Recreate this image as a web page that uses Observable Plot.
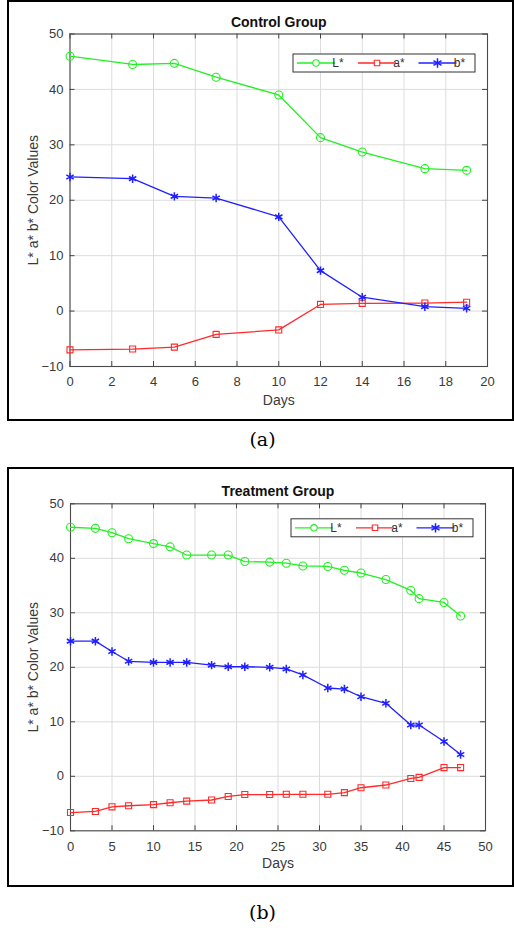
<!DOCTYPE html>
<html><head><meta charset="utf-8">
<script src="https://cdn.jsdelivr.net/npm/d3@7"></script>
<script src="https://cdn.jsdelivr.net/npm/@observablehq/plot@0.6"></script>
<style>
html,body{margin:0;padding:0;background:#fff;}
body{position:relative;width:514px;height:928px;overflow:hidden;}
.box{position:absolute;left:7px;width:503px;border:2px solid #000;background:#fff;}
.box svg{display:block;}
.cap{position:absolute;left:0;width:525px;text-align:center;font-family:"DejaVu Serif",serif;font-size:19px;line-height:1;color:#000;}
</style></head><body>
<div id="a" class="box" style="top:0;height:417px"></div>
<div class="cap" style="top:430px">(a)</div>
<div id="b" class="box" style="top:467px;height:416px"></div>
<div class="cap" style="top:903px">(b)</div>
<script>
// ---- Data ----
const seriesNames = ["L*", "a*", "b*"];
const seriesColors = ["#22f022", "#ff2a2a", "#2020ff"];
const seriesSymbols = ["circle", "square", "asterisk"];
const yTicks = [-10, 0, 10, 20, 30, 40, 50];

const controlTitle = "Control Group";
const controlDays = [0, 3, 5, 7, 10, 12, 14, 17, 19];
const controlL = [46.0, 44.5, 44.7, 42.2, 39.0, 31.3, 28.7, 25.7, 25.4];
const controlA = [-7.0, -6.85, -6.5, -4.2, -3.4, 1.2, 1.4, 1.45, 1.6];
const controlB = [24.2, 23.9, 20.7, 20.4, 17.0, 7.3, 2.5, 0.8, 0.5];
const controlXTicks = [0, 2, 4, 6, 8, 10, 12, 14, 16, 18, 20];

const treatTitle = "Treatment Group";
const treatDays = [0, 3, 5, 7, 10, 12, 14, 17, 19, 21, 24, 26, 28, 31, 33, 35, 38, 41, 42, 45, 47];
const treatL = [45.7, 45.5, 44.7, 43.6, 42.7, 42.1, 40.6, 40.6, 40.6, 39.4, 39.3, 39.1, 38.6, 38.5, 37.8, 37.3, 36.1, 34.1, 32.6, 31.9, 29.4];
const treatA = [-6.65, -6.45, -5.6, -5.4, -5.2, -4.85, -4.55, -4.35, -3.7, -3.35, -3.35, -3.3, -3.3, -3.3, -3.0, -2.1, -1.6, -0.4, -0.2, 1.6, 1.6];
const treatB = [24.8, 24.8, 22.9, 21.1, 20.9, 20.9, 20.9, 20.4, 20.1, 20.1, 20.0, 19.7, 18.6, 16.2, 16.0, 14.6, 13.4, 9.4, 9.4, 6.4, 4.0];
const treatXTicks = [0, 5, 10, 15, 20, 25, 30, 35, 40, 45, 50];

const xLabel = "Days";
const yLabel = "L* a* b* Color Values";

function drawPanel(el, cfg) {
  const {title, days, L, A, B, xTicks, width, height, mL, mR, mT, mB, legendTop, titleDy, xLabelDy} = cfg;
  const pw = width - mL - mR, ph = height - mT - mB;
  const rows = [];
  [L, A, B].forEach((vals, si) => vals.forEach((v, i) => rows.push({day: days[i], value: v, series: seriesNames[si]})));
  const tickStroke = "#444";
  const marks = [
    Plot.gridX(xTicks, {stroke: "#dcdcdc", strokeOpacity: 1}),
    Plot.gridY(yTicks, {stroke: "#dcdcdc", strokeOpacity: 1}),
    Plot.tickX(xTicks, {insetTop: ph - 5, stroke: tickStroke}),
    Plot.tickX(xTicks, {insetBottom: ph - 5, stroke: tickStroke}),
    Plot.tickY(yTicks, {insetRight: pw - 5, stroke: tickStroke}),
    Plot.tickY(yTicks, {insetLeft: pw - 5, stroke: tickStroke}),
    Plot.frame({stroke: "#4a4a4a", strokeWidth: 1.1}),
    Plot.axisX(xTicks, {tickSize: 0, tickPadding: 10.5, label: null, fill: "#3a3a3a", fontSize: 13}),
    Plot.axisY(yTicks, {tickSize: 0, tickPadding: 6.5, label: null, fill: "#3a3a3a", fontSize: 13}),
    Plot.text([xLabel], {text: d => d, frameAnchor: "bottom", lineAnchor: "middle", dy: xLabelDy, fontSize: 14, fill: "#3a3a3a"}),
    Plot.text([yLabel], {text: d => d, frameAnchor: "left", textAnchor: "middle", lineAnchor: "middle", rotate: -90, dx: -36.5, fontSize: 14, fill: "#3a3a3a"}),
    Plot.text([title], {text: d => d, frameAnchor: "top", lineAnchor: "middle", dy: titleDy, fontSize: 14, fontWeight: "bold", fill: "#111"})
  ];
  seriesNames.forEach((name, si) => {
    const data = rows.filter(r => r.series === name);
    marks.push(Plot.line(data, {x: "day", y: "value", stroke: seriesColors[si], strokeWidth: 1.3}));
    marks.push(Plot.dot(data, {x: "day", y: "value", stroke: seriesColors[si], fill: "none",
      symbol: seriesSymbols[si], r: si === 0 ? 4 : si === 1 ? 3.4 : 4, strokeWidth: si === 2 ? 1.5 : 1.1}));
  });
  const svg = Plot.plot({
    width, height, marginLeft: mL, marginRight: mR, marginTop: mT, marginBottom: mB,
    x: {domain: [xTicks[0], xTicks[xTicks.length - 1]], label: null},
    y: {domain: [yTicks[0], yTicks[yTicks.length - 1]], label: null},
    style: {fontFamily: "'Liberation Sans', Arial, sans-serif", fontSize: "13px", background: "#fff", color: "#3a3a3a"},
    marks
  });
  // legend
  const lw = 182, lh = 18;
  const g = d3.select(svg).append("g")
    .attr("transform", `translate(${width - mR - 12 - lw},${mT + legendTop})`);
  g.append("rect").attr("width", lw).attr("height", lh).attr("fill", "#fff").attr("stroke", "#333").attr("stroke-width", 1);
  const entryX = [4, 65, 125.5];
  seriesNames.forEach((name, si) => {
    const x0 = entryX[si], cy = lh / 2;
    g.append("line").attr("x1", x0).attr("x2", x0 + 38).attr("y1", cy).attr("y2", cy)
      .attr("stroke", seriesColors[si]).attr("stroke-width", 1.3);
    const sym = si === 0 ? d3.symbolCircle : si === 1 ? d3.symbolSquare : d3.symbolAsterisk;
    const size = si === 0 ? Math.PI * 3.2 * 3.2 : si === 1 ? 30 : 60;
    g.append("path").attr("d", d3.symbol(sym, size)()).attr("transform", `translate(${x0 + 19},${cy})`)
      .attr("fill", si === 2 ? seriesColors[si] : "#fff").attr("stroke", seriesColors[si]).attr("stroke-width", si === 2 ? 1.5 : 1.1);
    g.append("text").attr("x", x0 + 41).attr("y", cy).attr("dy", "0.35em")
      .attr("font-size", 12).attr("fill", "#333").text(name);
  });
  el.appendChild(svg);
}

drawPanel(document.getElementById("a"), {
  title: controlTitle, days: controlDays, L: controlL, A: controlA, B: controlB, xTicks: controlXTicks,
  width: 503, height: 417, mL: 60.5, mR: 25, mT: 31.5, mB: 53, legendTop: 20.5, titleDy: -11.8, xLabelDy: 34
});
drawPanel(document.getElementById("b"), {
  title: treatTitle, days: treatDays, L: treatL, A: treatA, B: treatB, xTicks: treatXTicks,
  width: 503, height: 416, mL: 61, mR: 27, mT: 34.3, mB: 54.7, legendTop: 15.5, titleDy: -12.6, xLabelDy: 32.7
});
</script>
</body></html>
